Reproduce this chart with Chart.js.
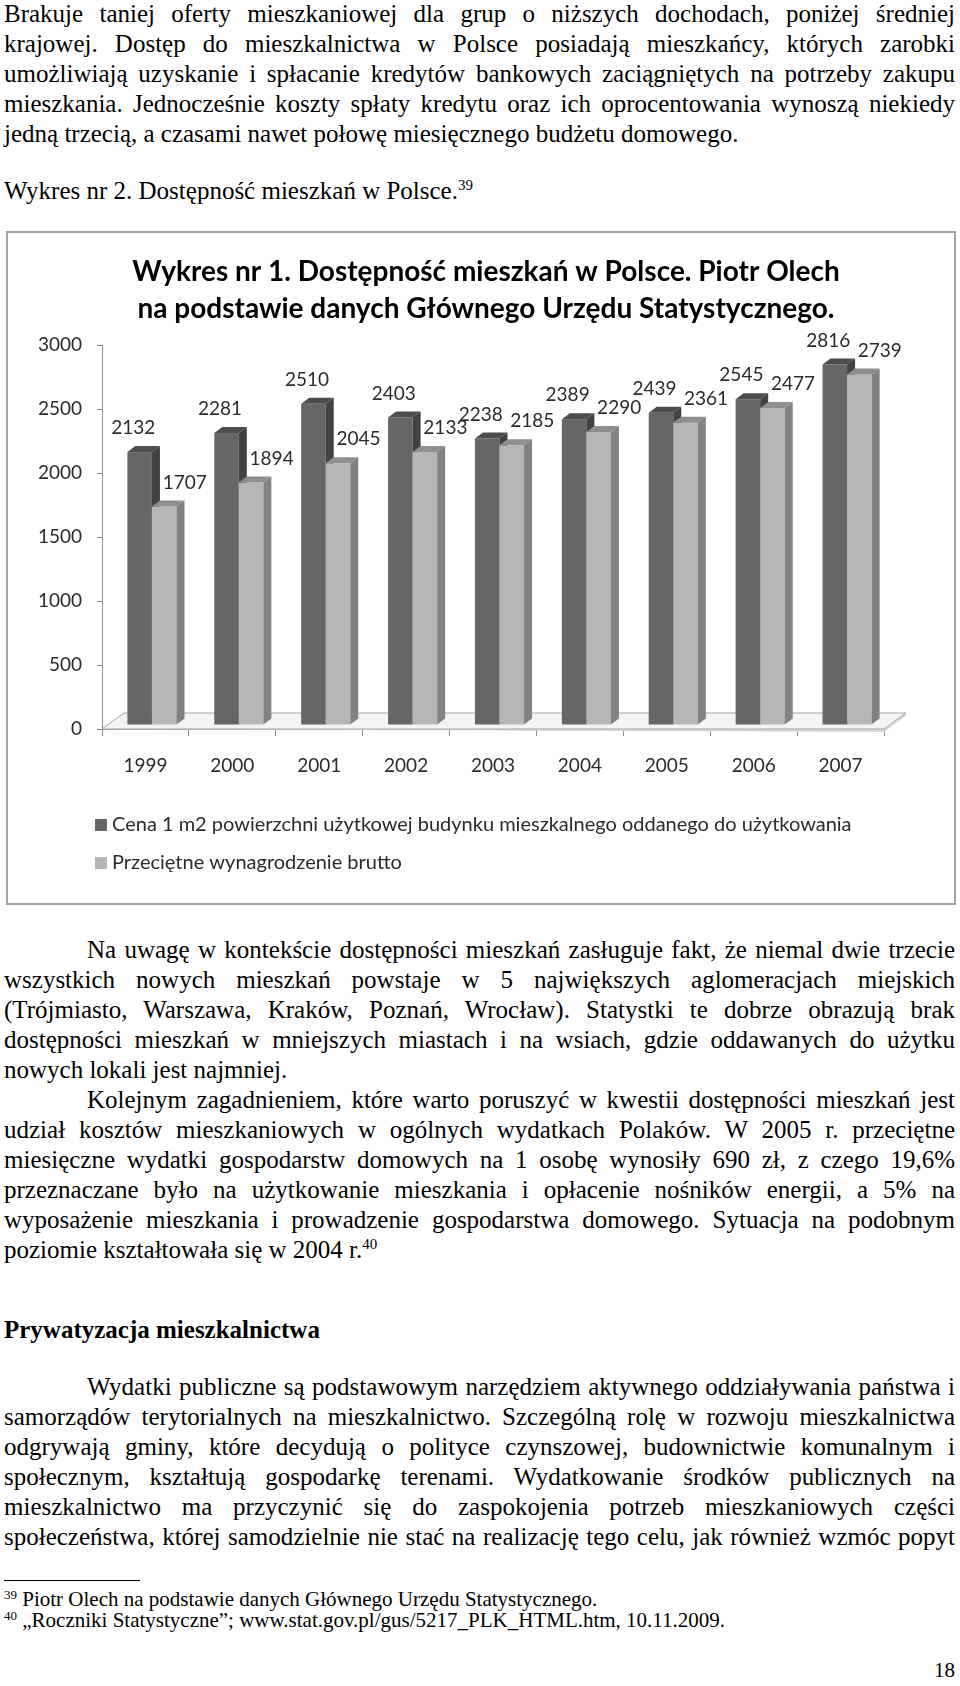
<!DOCTYPE html>
<html>
<head>
<meta charset="utf-8">
<script src="https://cdn.jsdelivr.net/npm/chart.js@4.4.1/dist/chart.umd.min.js"></script>
<style>
  html, body { margin: 0; padding: 0; background: #fff; }
  body { width: 960px; height: 1686px; position: relative; overflow: hidden;
         font-family: "Liberation Serif", "Times New Roman", serif; font-size: 25px; color: #000; }
  .blk { position: absolute; left: 4px; width: 951px; line-height: 30px; }
  .blk div { white-space: nowrap; }
  .j { text-align: justify; text-align-last: justify; }
  .ind { text-indent: 83px; }
  sup { font-size: 15px; line-height: 0; vertical-align: 9px; }
  .fn { font-size: 21px; line-height: 21px; }
  .fn sup { font-size: 13px; vertical-align: 7px; }
  #box { position: absolute; left: 6px; top: 231px; width: 946px; height: 670px; border: 2px solid #a3a3a3; }
  #box canvas { display: block; }
</style>
</head>
<body>

<div class="blk" style="top:-1px">
  <div class="j">Brakuje taniej oferty mieszkaniowej dla grup o niższych dochodach, poniżej średniej</div>
  <div class="j">krajowej. Dostęp do mieszkalnictwa w Polsce posiadają mieszkańcy, których zarobki</div>
  <div class="j">umożliwiają uzyskanie i spłacanie kredytów bankowych zaciągniętych na potrzeby zakupu</div>
  <div class="j">mieszkania. Jednocześnie koszty spłaty kredytu oraz ich oprocentowania wynoszą niekiedy</div>
  <div>jedną trzecią, a czasami nawet połowę miesięcznego budżetu domowego.</div>
</div>

<div class="blk" style="top:176px">
  <div>Wykres nr 2. Dostępność mieszkań w Polsce.<sup>39</sup></div>
</div>

<div id="box"><canvas id="chart" width="946" height="670"></canvas></div>

<div class="blk" style="top:935px">
  <div class="j ind">Na uwagę w kontekście dostępności mieszkań zasługuje fakt, że niemal dwie trzecie</div>
  <div class="j">wszystkich nowych mieszkań powstaje w 5 największych aglomeracjach miejskich</div>
  <div class="j">(Trójmiasto, Warszawa, Kraków, Poznań, Wrocław). Statystki te dobrze obrazują brak</div>
  <div class="j">dostępności mieszkań w mniejszych miastach i na wsiach, gdzie oddawanych do użytku</div>
  <div>nowych lokali jest najmniej.</div>
  <div class="j ind">Kolejnym zagadnieniem, które warto poruszyć w kwestii dostępności mieszkań jest</div>
  <div class="j">udział kosztów mieszkaniowych w ogólnych wydatkach Polaków. W 2005 r. przeciętne</div>
  <div class="j">miesięczne wydatki gospodarstw domowych na 1 osobę wynosiły 690 zł, z czego 19,6%</div>
  <div class="j">przeznaczane było na użytkowanie mieszkania i opłacenie nośników energii, a 5% na</div>
  <div class="j">wyposażenie mieszkania i prowadzenie gospodarstwa domowego. Sytuacja na podobnym</div>
  <div>poziomie kształtowała się w 2004 r.<sup>40</sup></div>
</div>

<div class="blk" style="top:1315px">
  <div style="font-weight:bold">Prywatyzacja mieszkalnictwa</div>
</div>

<div class="blk" style="top:1372px">
  <div class="j ind">Wydatki publiczne są podstawowym narzędziem aktywnego oddziaływania państwa i</div>
  <div class="j">samorządów terytorialnych na mieszkalnictwo. Szczególną rolę w rozwoju mieszkalnictwa</div>
  <div class="j">odgrywają gminy, które decydują o polityce czynszowej, budownictwie komunalnym i</div>
  <div class="j">społecznym, kształtują gospodarkę terenami. Wydatkowanie środków publicznych na</div>
  <div class="j">mieszkalnictwo ma przyczynić się do zaspokojenia potrzeb mieszkaniowych części</div>
  <div class="j">społeczeństwa, której samodzielnie nie stać na realizację tego celu, jak również wzmóc popyt</div>
</div>

<div style="position:absolute; left:4px; top:1580px; width:136px; border-top:1px solid #000;"></div>
<div class="blk fn" style="top:1589px"><sup>39</sup> Piotr Olech na podstawie danych Głównego Urzędu Statystycznego.</div>
<div class="blk fn" style="top:1610px"><sup>40</sup> „Roczniki Statystyczne”; www.stat.gov.pl/gus/5217_PLK_HTML.htm, 10.11.2009.</div>
<div class="blk fn" style="top:1660px; text-align:right;">18</div>

<script>
const years = ['1999', '2000', '2001', '2002', '2003', '2004', '2005', '2006', '2007'];
const pricePerM2 = [2132, 2281, 2510, 2403, 2238, 2389, 2439, 2545, 2816];
const avgGrossWage = [1707, 1894, 2045, 2133, 2185, 2290, 2361, 2477, 2739];
const yTicks = [0, 500, 1000, 1500, 2000, 2500, 3000];

const titleLines = [
  'Wykres nr 1. Dostępność mieszkań w Polsce. Piotr Olech',
  'na podstawie danych Głównego Urzędu Statystycznego.'
];
const seriesNames = [
  'Cena 1 m2 powierzchni użytkowej budynku mieszkalnego oddanego do użytkowania',
  'Przeciętne wynagrodzenie brutto'
];

// fake 3d: front face offset, bar depth, floor depth
const SHIFT_X = 6.5, SHIFT_Y = -4;
const DEPTH_X = 8, DEPTH_Y = -6;
const FLOOR_X = 22, FLOOR_Y = -16;
const TEXT = '#2b2b2b';
const FONT = 'Lato, "Open Sans", sans-serif';

const excel3d = {
  id: 'excel3d',
  beforeDatasetsDraw(chart) {
    const ctx = chart.ctx;
    const a = chart.chartArea;

    // floor
    ctx.save();
    ctx.fillStyle = '#d9d9d9';
    ctx.beginPath();
    ctx.moveTo(a.left, a.bottom);
    ctx.lineTo(a.right, a.bottom);
    ctx.lineTo(a.right + FLOOR_X, a.bottom + FLOOR_Y);
    ctx.lineTo(a.right + FLOOR_X, a.bottom + FLOOR_Y + 3);
    ctx.lineTo(a.right, a.bottom + 3);
    ctx.closePath();
    ctx.fill();
    ctx.beginPath();
    ctx.moveTo(a.left, a.bottom);
    ctx.lineTo(a.right, a.bottom);
    ctx.lineTo(a.right + FLOOR_X, a.bottom + FLOOR_Y);
    ctx.lineTo(a.left + FLOOR_X, a.bottom + FLOOR_Y);
    ctx.closePath();
    ctx.fillStyle = '#f4f4f4';
    ctx.fill();
    ctx.strokeStyle = '#a6a6a6';
    ctx.lineWidth = 1;
    ctx.stroke();

    // bars, drawn per category so the side faces overlap properly
    const metas = chart.data.datasets.map((d, i) => chart.getDatasetMeta(i));
    for (let i = 0; i < chart.data.labels.length; i++) {
      metas.forEach((meta, di) => {
        const ds = chart.data.datasets[di];
        const el = meta.data[i];
        const l = el.x - el.width / 2 + SHIFT_X;
        const r = el.x + el.width / 2 + SHIFT_X;
        const t = el.y + SHIFT_Y;
        const b = el.base + SHIFT_Y;

        ctx.fillStyle = ds.backgroundColor;
        ctx.fillRect(l, t, r - l, b - t);

        ctx.fillStyle = ds.topColor;
        ctx.beginPath();
        ctx.moveTo(l, t);
        ctx.lineTo(l + DEPTH_X, t + DEPTH_Y);
        ctx.lineTo(r + DEPTH_X, t + DEPTH_Y);
        ctx.lineTo(r, t);
        ctx.closePath();
        ctx.fill();

        ctx.fillStyle = ds.sideColor;
        ctx.beginPath();
        ctx.moveTo(r, t);
        ctx.lineTo(r + DEPTH_X, t + DEPTH_Y);
        ctx.lineTo(r + DEPTH_X, b + DEPTH_Y);
        ctx.lineTo(r, b);
        ctx.closePath();
        ctx.fill();
      });
    }
    ctx.restore();
    return false;
  },
  afterDraw(chart) {
    const ctx = chart.ctx;
    ctx.save();

    // title
    ctx.fillStyle = '#000';
    ctx.font = 'bold 28px ' + FONT;
    ctx.textAlign = 'center';
    ctx.textBaseline = 'middle';
    titleLines.forEach((line, i) => ctx.fillText(line, 478, 39 + i * 37));

    // data labels
    ctx.font = '19px ' + FONT;
    ctx.fillStyle = TEXT;
    chart.data.datasets.forEach((ds, di) => {
      const meta = chart.getDatasetMeta(di);
      meta.data.forEach((el, i) => {
        ctx.fillText(String(ds.data[i]), el.x + ds.labelDx, el.y - 28);
      });
    });

    // legend (one entry per line, like the Excel original)
    ctx.textAlign = 'left';
    ctx.font = '20px ' + FONT;
    chart.data.datasets.forEach((ds, di) => {
      const y = 592 + di * 38;
      ctx.fillStyle = ds.backgroundColor;
      ctx.fillRect(87, y - 6, 12, 12);
      ctx.fillStyle = TEXT;
      ctx.fillText(ds.label, 104, y);
    });
    ctx.restore();
  }
};

const ctx = document.getElementById('chart').getContext('2d');
const chart = new Chart(ctx, {
  type: 'bar',
  data: {
    labels: years,
    datasets: [{
      label: seriesNames[0],
      data: pricePerM2,
      backgroundColor: '#666666',
      topColor: '#4d4d4d',
      sideColor: '#424242',
      labelDx: 0,
      categoryPercentage: 0.565,
      barPercentage: 1.0
    }, {
      label: seriesNames[1],
      data: avgGrossWage,
      backgroundColor: '#b6b6b6',
      topColor: '#8f8f8f',
      sideColor: '#828282',
      labelDx: 27,
      categoryPercentage: 0.565,
      barPercentage: 1.0
    }]
  },
  options: {
    responsive: false,
    animation: false,
    layout: { padding: { top: 112, left: 0, right: 70, bottom: 114 } },
    plugins: {
      legend: { display: false },
      title: { display: false },
      tooltip: { enabled: false }
    },
    scales: {
      x: {
        afterFit: s => { s.height = 60; },
        grid: { drawOnChartArea: false, drawTicks: true, tickLength: 7, color: '#8c8c8c' },
        border: { display: true, color: '#a6a6a6' },
        ticks: { color: TEXT, font: { family: FONT, size: 19 }, padding: 18, maxRotation: 0 }
      },
      y: {
        min: 0,
        max: 3000,
        afterFit: s => { s.width = 94; },
        afterBuildTicks: s => { s.ticks = yTicks.map(v => ({ value: v })); },
        grid: { drawOnChartArea: false, drawTicks: true, tickLength: 5, color: '#8c8c8c' },
        border: { display: true, color: '#8c8c8c' },
        ticks: { color: TEXT, font: { family: FONT, size: 19 }, padding: 15, callback: v => String(v) }
      }
    }
  },
  plugins: [excel3d]
});
</script>
</body>
</html>
